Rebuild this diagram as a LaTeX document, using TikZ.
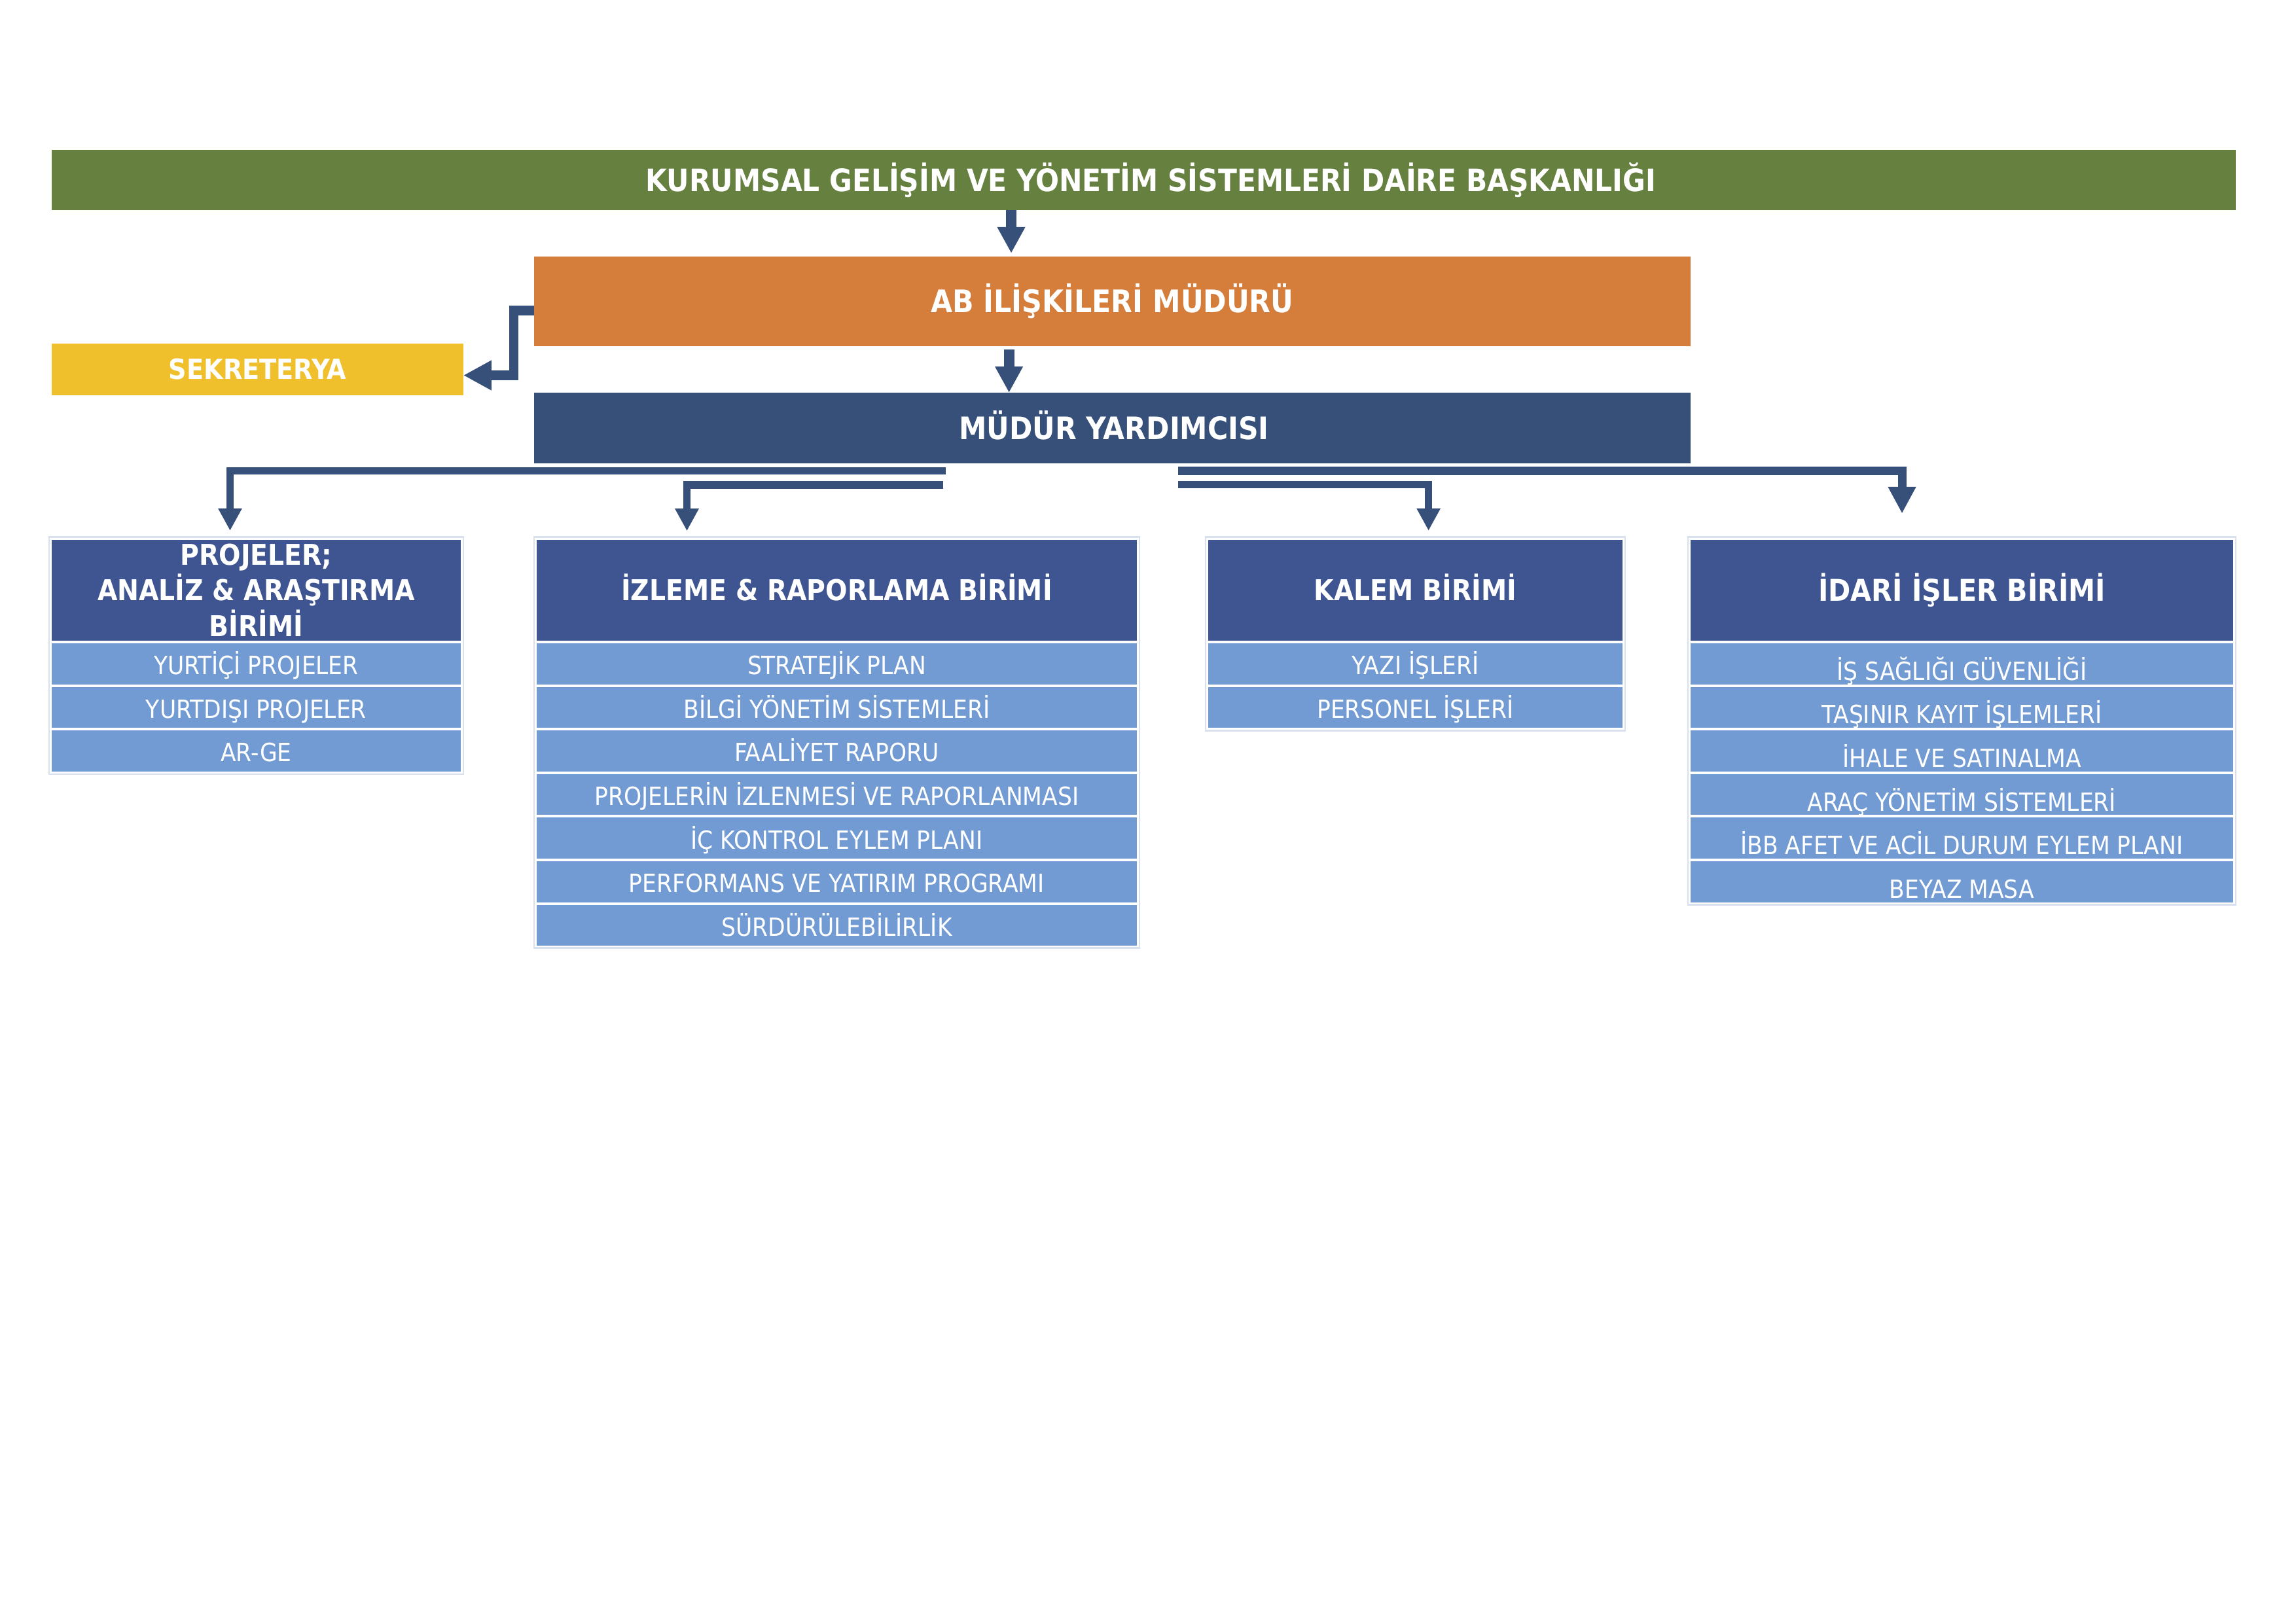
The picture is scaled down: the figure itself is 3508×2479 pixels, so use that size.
\documentclass[tikz,border=0pt]{standalone}
\usepackage{fontspec}
\newfontfamily\tah{DejaVuSansCondensed.ttf}[BoldFont=DejaVuSansCondensed-Bold.ttf]
\usetikzlibrary{arrows.meta}
\definecolor{cgreen}{HTML}{65803F}
\definecolor{corange}{HTML}{D57D3B}
\definecolor{cyellow}{HTML}{EFBF2C}
\definecolor{cnavy}{HTML}{36507A}
\definecolor{chead}{HTML}{3F5592}
\definecolor{crow}{HTML}{729BD3}
\definecolor{cedge}{HTML}{D9E0EE}
\def\pxu{0.24pt}
\begin{document}
\begin{tikzpicture}[x=0.24pt,y=-0.24pt,
  cell/.style={anchor=north west,inner sep=0pt,outer sep=0pt,text=white},
  titlebox/.style={cell,fill=cgreen,font=\tah\bfseries\fontsize{11.3}{13}\selectfont,text height=8.2pt,text depth=0pt},
  abbox/.style={cell,fill=corange,font=\tah\bfseries\fontsize{11.4}{13}\selectfont,text height=8.3pt,text depth=0pt},
  sekbox/.style={cell,fill=cyellow,font=\tah\bfseries\fontsize{10.2}{13}\selectfont,text height=7.4pt,text depth=0pt},
  mybox/.style={cell,fill=cnavy,font=\tah\bfseries\fontsize{11.35}{13}\selectfont,text height=8.2pt,text depth=0pt},
  tabbox/.style={anchor=north west,inner sep=0pt,outer sep=0pt,draw=cedge,line width=0.5pt},
  headbox/.style={cell,fill=chead,minimum height=154.5*\pxu,font=\tah\bfseries\fontsize{10.5}{13.2}\selectfont},
  headone/.style={headbox,text height=7.67pt,text depth=0pt},
  rowbox/.style={cell,fill=crow,minimum height=62.5*\pxu,font=\tah\fontsize{9.2}{11}\selectfont,text height=7.9pt,text depth=0pt},
  irowbox/.style={rowbox,text height=12pt},
  bigarr/.style={draw=cnavy,line width=3.8pt,-{Triangle[width=9.6pt,length=9.6pt]}},
  sekarr/.style={draw=cnavy,line width=3.4pt,-{Triangle[width=10.3pt,length=10.3pt]}},
  smallarr/.style={draw=cnavy,line width=2.8pt,-{Triangle[width=8.2pt,length=8.2pt]}},
  rarr/.style={draw=cnavy,line width=3.1pt,-{Triangle[width=9.6pt,length=9.8pt]}}
]
\fill[white] (0,0) rectangle (3508,2479);
\useasboundingbox (0,0) rectangle (3508,2479);

% top boxes
\node[titlebox,minimum width=3337*\pxu,minimum height=92*\pxu] (g) at (79,229)
  {\hspace*{5.3pt}KURUMSAL GELİŞİM VE YÖNETİM SİSTEMLERİ DAİRE BAŞKANLIĞI};
\node[abbox,minimum width=1767*\pxu,minimum height=137.5*\pxu] (ab) at (816,391.5)
  {AB İLİŞKİLERİ MÜDÜRÜ};
\node[sekbox,minimum width=629*\pxu,minimum height=79*\pxu] (sek) at (79,525)
  {SEKRETERYA};
\node[mybox,minimum width=1767*\pxu,minimum height=108*\pxu] (my) at (816,600)
  {\hspace*{1.2pt}MÜDÜR YARDIMCISI};

% tables (outer frames)
\node[tabbox,minimum width=633*\pxu,minimum height=362.5*\pxu] (t1) at (75,820.5) {};
\node[tabbox,minimum width=925*\pxu,minimum height=628*\pxu] (t2) at (816,820.5) {};
\node[tabbox,minimum width=641*\pxu,minimum height=296*\pxu] (t3) at (1842,820.5) {};
\node[tabbox,minimum width=837*\pxu,minimum height=562*\pxu] (t4) at (2579,820.5) {};

% headers
\node[headbox,minimum width=625*\pxu,align=center] (h1) at (79,824.5)
  {PROJELER;\\ANALİZ \& ARAŞTIRMA\\BİRİMİ};
\node[headone,minimum width=917*\pxu] (h2) at (820,824.5) {İZLEME \& RAPORLAMA BİRİMİ};
\node[headone,minimum width=633*\pxu] (h3) at (1846,824.5) {KALEM BİRİMİ};
\node[headone,minimum width=829*\pxu,font=\tah\bfseries\fontsize{11}{13.2}\selectfont,text height=8pt] (h4) at (2583,824.5) {İDARİ İŞLER BİRİMİ};

% rows
\foreach \t [count=\i from 0] in {YURTİÇİ PROJELER,YURTDIŞI PROJELER,AR-GE}
  \node[rowbox,minimum width=625*\pxu] (ra\i) at (79,{983+66.6*\i}) {\t};
\foreach \t [count=\i from 0] in {STRATEJİK PLAN,BİLGİ YÖNETİM SİSTEMLERİ,FAALİYET RAPORU,PROJELERİN İZLENMESİ VE RAPORLANMASI,İÇ KONTROL EYLEM PLANI,PERFORMANS VE YATIRIM PROGRAMI,SÜRDÜRÜLEBİLİRLİK}
  \node[rowbox,minimum width=917*\pxu] (rb\i) at (820,{983+66.6*\i}) {\t};
\foreach \t [count=\i from 0] in {YAZI İŞLERİ,PERSONEL İŞLERİ}
  \node[rowbox,minimum width=633*\pxu] (rc\i) at (1846,{983+66.6*\i}) {\t};
\foreach \t [count=\i from 0] in {İŞ SAĞLIĞI GÜVENLİĞİ,TAŞINIR KAYIT İŞLEMLERİ,İHALE VE SATINALMA,ARAÇ YÖNETİM SİSTEMLERİ,İBB AFET VE ACİL DURUM EYLEM PLANI,BEYAZ MASA}
  \node[irowbox,minimum width=829*\pxu] (rd\i) at (2583,{983+66.6*\i}) {\t};

% connectors
\coordinate (p1) at (1545,350);
\coordinate (p2) at (1541.6,560);
\draw[bigarr,shorten >=1.1pt] (g.south -| p1) -- (p1 |- ab.north);
\draw[bigarr,shorten <=1.2pt] (ab.south -| p2) -- (p2 |- my.north);

\coordinate (e1) at (785,474.5);
\coordinate (e2) at (785,573.5);
\draw[sekarr] (ab.west |- e1) -- (e1) -- (e2) -- (e2 -| sek.east);

\coordinate (m1) at (1444.6,719.5);
\coordinate (k1) at (351.5,719.5);
\draw[smallarr,shorten >=2.3pt] (m1) -- (k1) -- (k1 |- t1.north);

\coordinate (m2) at (1441,740.7);
\coordinate (k2) at (1049.5,740.7);
\draw[smallarr,shorten >=2.2pt] (m2) -- (k2) -- (k2 |- t2.north);

\coordinate (m3) at (1800,740.5);
\coordinate (k3) at (2182.6,740.5);
\draw[smallarr,shorten >=2.3pt] (m3) -- (k3) -- (k3 |- t3.north);

\coordinate (m4) at (1800,719.7);
\coordinate (k4) at (2906,719.7);
\draw[rarr,shorten >=8.6pt] (m4) -- (k4) -- (k4 |- t4.north);
\end{tikzpicture}
\end{document}
